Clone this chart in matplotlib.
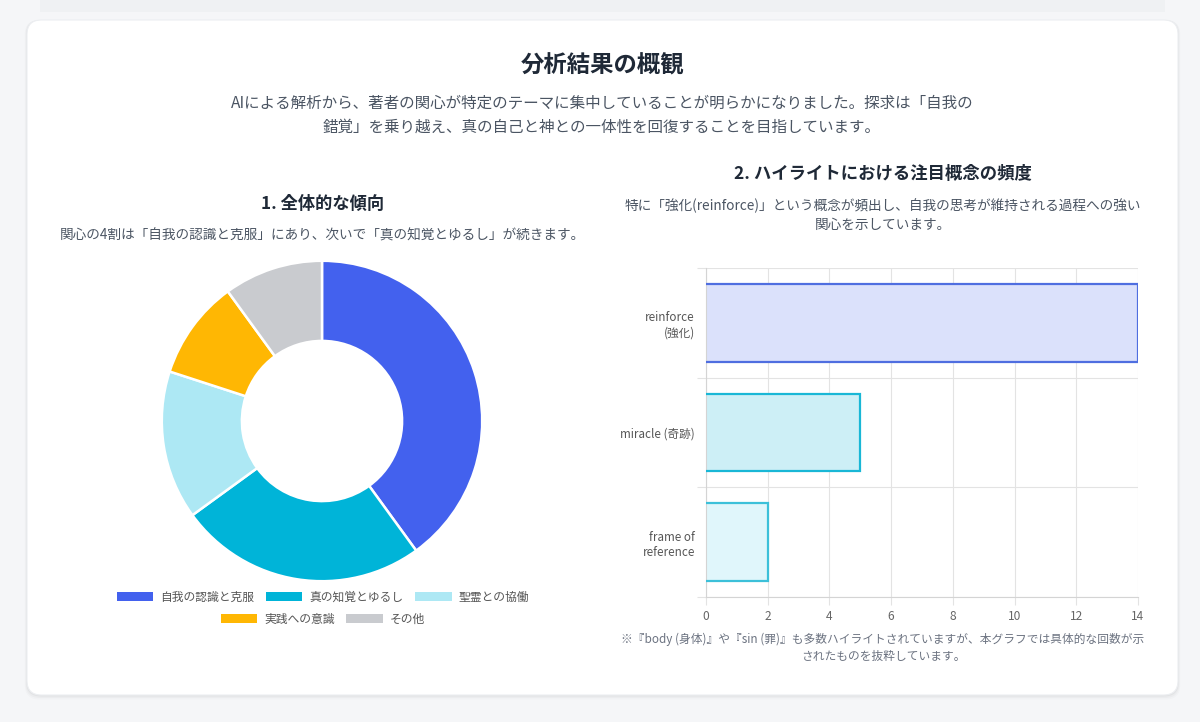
import matplotlib
matplotlib.use("Agg")
import matplotlib.pyplot as plt
from matplotlib.patches import FancyBboxPatch, Rectangle, Patch
import numpy as np

plt.rcParams['font.family'] = ['Noto Sans CJK JP', 'DejaVu Sans']

# ---------------- data ----------------
main_title = "分析結果の概観"
main_sub = ("AIによる解析から、著者の関心が特定のテーマに集中していることが明らかになりました。探求は「自我の\n"
            "錯覚」を乗り越え、真の自己と神との一体性を回復することを目指しています。")

donut_title = "1. 全体的な傾向"
donut_desc = "関心の4割は「自我の認識と克服」にあり、次いで「真の知覚とゆるし」が続きます。"
donut_labels = ["自我の認識と克服", "真の知覚とゆるし", "聖霊との協働", "実践への意識", "その他"]
donut_values = [40, 25, 15, 10, 10]
donut_colors = ["#4361ee", "#00b4d8", "#ade8f4", "#ffb703", "#c9cbcf"]

bar_title = "2. ハイライトにおける注目概念の頻度"
bar_desc = ("特に「強化(reinforce)」という概念が頻出し、自我の思考が維持される過程への強い\n"
            "関心を示しています。")
bar_labels = ["reinforce\n(強化)", "miracle (奇跡)", "frame of\nreference"]
bar_values = [14, 5, 2]
bar_fill = ["#dbe1fb", "#cdeff6", "#e0f6fb"]
bar_edge = ["#4f6ee0", "#19b7d6", "#3cc0d9"]
bar_xticks = [0, 2, 4, 6, 8, 10, 12, 14]
footnote = ("※『body (身体)』や『sin (罪)』も多数ハイライトされていますが、本グラフでは具体的な回数が示\n"
            "されたものを抜粋しています。")

# ---------------- figure ----------------
W, H = 1200, 722
fig = plt.figure(figsize=(W / 100, H / 100), dpi=100)
fig.patch.set_facecolor("#f5f6f8")

def fx(x):
    return x / W

def fy(y):
    return 1 - y / H

def rect(l, t, r, b):
    return [fx(l), fy(b), (r - l) / W, (b - t) / H]

# background card pieces
fig.patches.append(Rectangle((fx(40), fy(12)), (1165 - 40) / W, 12 / H,
                             transform=fig.transFigure, facecolor="#eff1f3",
                             edgecolor="none", zorder=0))
for i, a in enumerate([0.035, 0.025, 0.015]):
    d = (i + 1) * 1.5
    fig.patches.append(FancyBboxPatch((fx(27 - d / 2), fy(695 + d)), (1151 + d) / W, (675 + d) / H,
                                      boxstyle="round,pad=0,rounding_size=0.012",
                                      transform=fig.transFigure, facecolor=(0, 0, 0, a),
                                      edgecolor="none", zorder=0.5,
                                      mutation_aspect=W / H))
fig.patches.append(FancyBboxPatch((fx(27), fy(695)), 1151 / W, 675 / H,
                                  boxstyle="round,pad=0,rounding_size=0.012",
                                  transform=fig.transFigure, facecolor="white",
                                  edgecolor="#eceef1", linewidth=0.8, zorder=1,
                                  mutation_aspect=W / H))

# texts
fig.text(fx(603), fy(66), main_title, ha="center", va="center", fontsize=16.8,
         fontweight="bold", color="#1f2937", zorder=3)
fig.text(fx(602), fy(115), main_sub, ha="center", va="center", fontsize=11.2,
         color="#4b5563", linespacing=1.5, zorder=3)

fig.text(fx(323), fy(204), donut_title, ha="center", va="center", fontsize=12.4,
         fontweight="bold", color="#1f2937", zorder=3)
fig.text(fx(322), fy(236), donut_desc, ha="center", va="center", fontsize=9.85,
         color="#4b5563", zorder=3)

fig.text(fx(883), fy(174), bar_title, ha="center", va="center", fontsize=12.5,
         fontweight="bold", color="#1f2937", zorder=3)
fig.text(fx(883), fy(215), bar_desc, ha="center", va="center", fontsize=9.85,
         color="#4b5563", linespacing=1.4, zorder=3)
fig.text(fx(883), fy(648), footnote, ha="center", va="center", fontsize=8.45,
         color="#6b7280", linespacing=1.4, zorder=3)

# ---------------- donut ----------------
axd = fig.add_axes(rect(322 - 161, 421 - 161, 322 + 161, 421 + 161))
axd.set_zorder(2)
wedges, _ = axd.pie(donut_values, colors=donut_colors, startangle=90, counterclock=False,
                    radius=1, wedgeprops=dict(width=0.5, edgecolor="white", linewidth=1.8))
axd.set_xlim(-1.005, 1.005)
axd.set_ylim(-1.005, 1.005)
axd.set_aspect("equal")
axd.axis("off")

handles = [Patch(facecolor=c, edgecolor="none") for c in donut_colors]
leg_kw = dict(frameon=False, fontsize=8.5, handlelength=3.1, handleheight=0.85,
              handletextpad=0.62, columnspacing=0.95, labelcolor="#555555")
leg1 = fig.legend(handles[:3], donut_labels[:3], loc="center", ncol=3,
                  bbox_to_anchor=(fx(323), fy(597)), **leg_kw)
leg2 = fig.legend(handles[3:], donut_labels[3:], loc="center", ncol=2,
                  bbox_to_anchor=(fx(323), fy(619)), **leg_kw)
leg1.set_zorder(3)
leg2.set_zorder(3)

# ---------------- bar chart ----------------
axb = fig.add_axes(rect(706, 268, 1138, 597))
axb.set_zorder(2)
y = np.arange(len(bar_values))
axb.barh(y, bar_values, height=0.71, color=bar_fill, edgecolor="none", zorder=2)
# outlines without the left (start) edge, like the reference
for yi, v, ec in zip(y, bar_values, bar_edge):
    h = 0.71 / 2
    axb.plot([0, v, v, 0], [yi - h, yi - h, yi + h, yi + h], color=ec, lw=1.6,
             solid_joinstyle="miter", zorder=3)
axb.set_xlim(0, 14)
axb.set_ylim(2.5, -0.5)
axb.set_xticks(bar_xticks)
axb.set_xticklabels([str(t) for t in bar_xticks])
axb.set_yticks(y)
axb.set_yticklabels(bar_labels)
axb.set_yticks([-0.5, 0.5, 1.5, 2.5], minor=True)
axb.tick_params(axis="y", which="major", length=0, pad=8, labelsize=8.4, labelcolor="#555555")
axb.tick_params(axis="y", which="minor", length=6.5, color="#e3e3e3", width=0.8)
axb.tick_params(axis="x", which="major", length=6, color="#e3e3e3", width=0.8,
                labelsize=8.6, labelcolor="#666666", pad=3)
axb.grid(axis="x", which="major", color="#e3e3e3", lw=0.8, zorder=0)
axb.grid(axis="y", which="minor", color="#e3e3e3", lw=0.8, zorder=0)
axb.set_axisbelow(True)
for s in ["top", "right"]:
    axb.spines[s].set_visible(False)
axb.spines["left"].set_color("#d4d4d4")
axb.spines["bottom"].set_color("#d4d4d4")
axb.spines["left"].set_linewidth(0.8)
axb.spines["bottom"].set_linewidth(0.8)
for lab in axb.get_yticklabels():
    lab.set_multialignment("right")

fig.savefig("out.png", dpi=100, facecolor=fig.get_facecolor())
